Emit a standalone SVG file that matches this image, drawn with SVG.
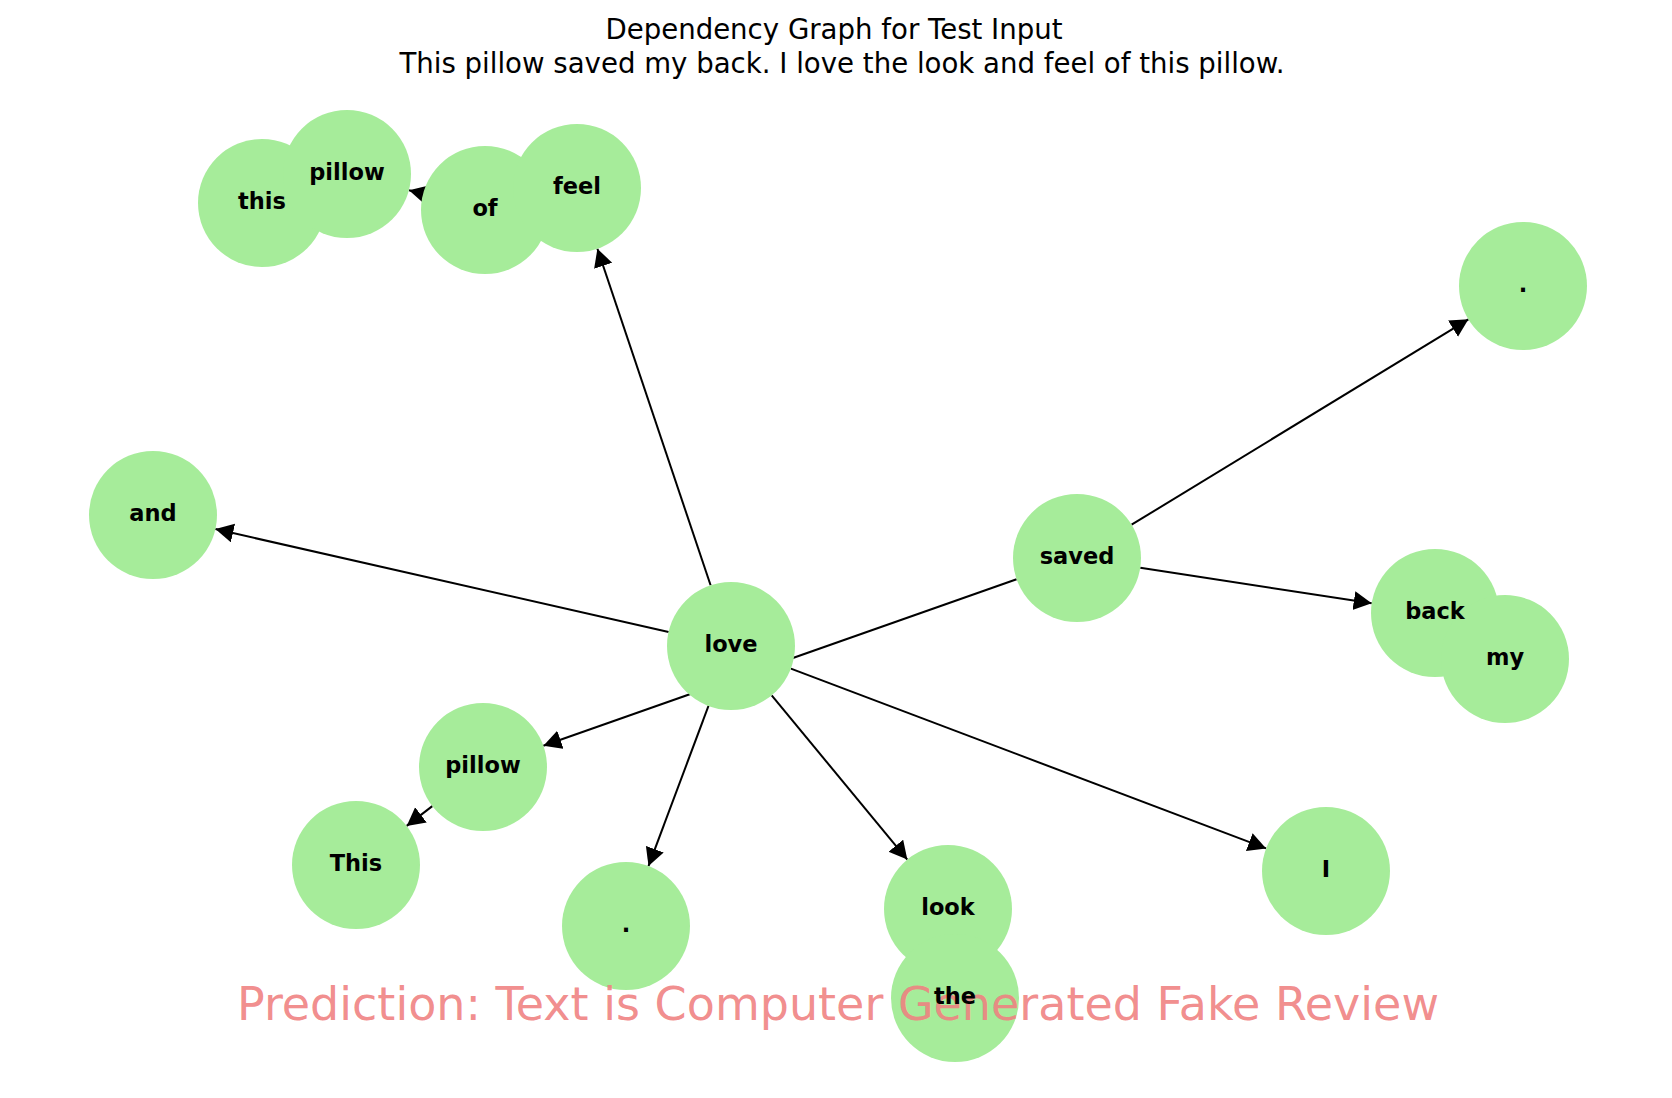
<svg xmlns="http://www.w3.org/2000/svg" width="1672" height="1098" viewBox="0 0 1672 1098">
<defs>
<style>
.node{fill:#a6ec9a}
.lbl{font-family:"DejaVu Sans",sans-serif;font-weight:bold;font-size:22.5px;fill:#000;text-anchor:middle;dominant-baseline:central}
.edge{stroke:#000;stroke-width:2;fill:none}
.title{font-family:"DejaVu Sans",sans-serif;font-size:27.6px;fill:#000;text-anchor:middle}
.pred{font-family:"DejaVu Sans",sans-serif;font-size:46px;fill:#f08080;text-anchor:middle;fill-opacity:0.9}
</style>
<marker id="arr" markerUnits="userSpaceOnUse" markerWidth="20" markerHeight="20" refX="18" refY="9.5" orient="auto" viewBox="0 0 20 20">
<path d="M0,0 L18,9.5 L0,19 z" fill="#000"/>
</marker>
</defs>
<rect width="1672" height="1098" fill="#fff"/>
<text class="title" x="834" y="39">Dependency Graph for Test Input</text>
<text class="title" x="842" y="73">This pillow saved my back. I love the look and feel of this pillow.</text>
<g id="edges">
<line class="edge" x1="710.6" y1="585.3" x2="597.4" y2="248.7" marker-end="url(#arr)"/>
<line class="edge" x1="668.6" y1="631.9" x2="215.4" y2="529.1" marker-end="url(#arr)"/>
<line class="edge" x1="1016.6" y1="579.2" x2="543.4" y2="745.8" marker-end="url(#arr)"/>
<line class="edge" x1="708.5" y1="705.9" x2="648.5" y2="866.1" marker-end="url(#arr)"/>
<line class="edge" x1="771.7" y1="695.4" x2="907.3" y2="859.6" marker-end="url(#arr)"/>
<line class="edge" x1="790.9" y1="668.6" x2="1266.1" y2="848.4" marker-end="url(#arr)"/>
<line class="edge" x1="1131.6" y1="524.7" x2="1468.4" y2="319.3" marker-end="url(#arr)"/>
<line class="edge" x1="1140.3" y1="567.7" x2="1371.7" y2="603.3" marker-end="url(#arr)"/>
<line class="edge" x1="440" y1="198" x2="409" y2="190.2" marker-end="url(#arr)"/>
<line class="edge" x1="432.3" y1="806.1" x2="406.7" y2="825.9" marker-end="url(#arr)"/>
</g>
<g id="nodes">
<g id="node-this"><circle class="node" cx="262" cy="203" r="64"/></g>
<g id="node-pillow-top"><circle class="node" cx="347" cy="174" r="64"/></g>
<g id="node-of"><circle class="node" cx="485" cy="210" r="64"/></g>
<g id="node-feel"><circle class="node" cx="577" cy="188" r="64"/></g>
<g id="node-dot-top"><circle class="node" cx="1523" cy="286" r="64"/></g>
<g id="node-and"><circle class="node" cx="153" cy="515" r="64"/></g>
<g id="node-saved"><circle class="node" cx="1077" cy="558" r="64"/></g>
<g id="node-love"><circle class="node" cx="731" cy="646" r="64"/></g>
<g id="node-back"><circle class="node" cx="1435" cy="613" r="64"/></g>
<g id="node-my"><circle class="node" cx="1505" cy="659" r="64"/></g>
<g id="node-pillow"><circle class="node" cx="483" cy="767" r="64"/></g>
<g id="node-This"><circle class="node" cx="356" cy="865" r="64"/></g>
<g id="node-dot-bottom"><circle class="node" cx="626" cy="926" r="64"/></g>
<g id="node-look"><circle class="node" cx="948" cy="909" r="64"/></g>
<g id="node-the"><circle class="node" cx="955" cy="998" r="64"/></g>
<g id="node-I"><circle class="node" cx="1326" cy="871" r="64"/></g>
</g>
<text class="pred" x="838" y="1020">Prediction: Text is Computer Generated Fake Review</text>
<g id="labels">
<text class="lbl" x="262" y="201">this</text>
<text class="lbl" x="347" y="172">pillow</text>
<text class="lbl" x="485" y="208">of</text>
<text class="lbl" x="577" y="186">feel</text>
<text class="lbl" x="1523" y="284">.</text>
<text class="lbl" x="153" y="513">and</text>
<text class="lbl" x="1077" y="556">saved</text>
<text class="lbl" x="731" y="644">love</text>
<text class="lbl" x="1435" y="611">back</text>
<text class="lbl" x="1505" y="657">my</text>
<text class="lbl" x="483" y="765">pillow</text>
<text class="lbl" x="356" y="863">This</text>
<text class="lbl" x="626" y="924">.</text>
<text class="lbl" x="948" y="907">look</text>
<text class="lbl" x="955" y="996">the</text>
<text class="lbl" x="1326" y="869">I</text>
</g>
</svg>
